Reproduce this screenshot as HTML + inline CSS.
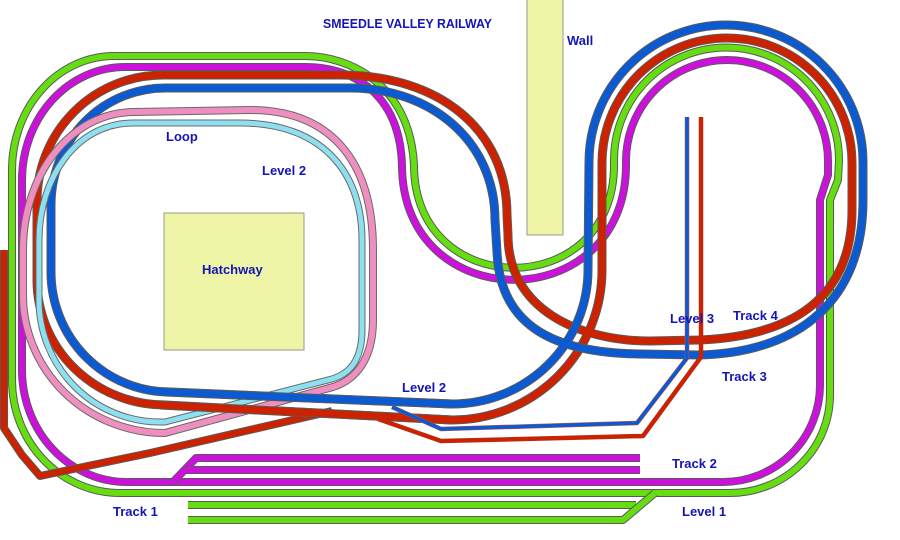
<!DOCTYPE html>
<html><head><meta charset="utf-8">
<style>
html,body{margin:0;padding:0;background:#fff;}
svg{display:block;}
text{font-family:"Liberation Sans",Arial,sans-serif;font-weight:bold;font-size:13px;fill:#1515b5;}
</style></head><body>
<svg width="900" height="540" viewBox="0 0 900 540" xmlns="http://www.w3.org/2000/svg">
<rect width="900" height="540" fill="#fff"/>
<defs>
<path id="pG" fill="none" d="M114 56 L305 56 C350 56 410 85 414 165 C414 302 614 302 614 165 L614 160 A112.5 112.5 0 1 1 839 160 L838 180 L830 200 L830 395 A100 98 0 0 1 730 493 L120 493 A108 113 0 0 1 12 380 L12 170 A102 114 0 0 1 114 56 Z"/>
<path id="pM" fill="none" d="M125 67 L305 67 C360 67 400 100 402 165 C402 318 626 318 626 165 L626 161 A101 101 0 1 1 828 161 L828 175 L820 200 L820 385 A97 97 0 0 1 723 482 L127 482 A105 112 0 0 1 22 370 L22 180 A103 113 0 0 1 125 67 Z"/>
<path id="pR" fill="none" d="M163 75 L340 75 C440 75 507 130 507 215 L508 235 C508 310 580 341 650 341 L700 340 C790 336 852 300 852 210 L852 163 A125 125 0 1 0 602 163 L602 270 A150 150 0 0 1 452 420 L165 405 A128 125 0 0 1 37 280 L37 201 A126 126 0 0 1 163 75 Z"/>
<path id="pB" fill="none" d="M165 88 L350 88 C430 88 495 140 495 220 L497 252 C500 330 560 353 640 354 L700 355 C800 352 863 300 863 200 L863 162 A137 137 0 1 0 589 162 L588 270 A136 134 0 0 1 452 404 L170 392 A119 120 0 0 1 51 272 L51 205 A114 117 0 0 1 165 88 Z"/>
<path id="pP" fill="none" d="M133 112 L250 110 C330 110 373 160 373 250 L373 320 C373 360 355 380 333 387 L165 433 A142 138 0 0 1 23 295 L23 250 C23 175 70 113 133 112 Z"/>
<path id="pL" fill="none" d="M133 123 L240 123 C320 123 362 170 362 240 L362 330 C362 360 350 375 328 380 L165 422 L160 422 A121 122 0 0 1 39 300 L39 240 C39 180 75 123 133 123 Z"/>
<path id="pRb" fill="none" d="M160 405 L452 420"/>
<path id="pBb" fill="none" d="M165 392 L452 404"/>
<path id="pBr" fill="none" d="M4 250 L4 428 L22 455 L40 476 L150 453 L332 411"/>
<path id="pMs1" fill="none" d="M640 458 L196 458 L172 483"/>
<path id="pMs2" fill="none" d="M640 470 L185 470"/>
<path id="pGs1" fill="none" d="M188 505 L636 505"/>
<path id="pGs2" fill="none" d="M188 520 L623 520 L655 493"/>
<path id="pBt" fill="none" d="M392 407 L441 429 L637 423 L687 358 L687 117"/>
<path id="pRt" fill="none" d="M378 419 L441 441 L643 436 L701 357 L701 117"/>
</defs>

<!-- Hatchway and Wall -->
<rect x="164" y="213" width="140" height="137" fill="#eef5a6" stroke="#9a9a8a" stroke-width="1"/>
<rect x="527" y="-2" width="36" height="237" fill="#eef5a6" stroke="#9a9a8a" stroke-width="1"/>

<g stroke-linejoin="round">
<!-- green outer -->
<use href="#pG" stroke="#5a5a5a" stroke-width="8"/>
<use href="#pG" stroke="#66dd11" stroke-width="6"/>
<!-- magenta -->
<use href="#pM" stroke="#5a5a5a" stroke-width="8"/>
<use href="#pM" stroke="#cc11dd" stroke-width="6"/>
<!-- sidings -->
<use href="#pMs1" stroke="#5a5a5a" stroke-width="8"/>
<use href="#pMs1" stroke="#cc11dd" stroke-width="6"/>
<use href="#pMs2" stroke="#5a5a5a" stroke-width="8"/>
<use href="#pMs2" stroke="#cc11dd" stroke-width="6"/>
<use href="#pGs1" stroke="#5a5a5a" stroke-width="8"/>
<use href="#pGs1" stroke="#66dd11" stroke-width="6"/>
<use href="#pGs2" stroke="#5a5a5a" stroke-width="8"/>
<use href="#pGs2" stroke="#66dd11" stroke-width="6"/>
<!-- red branch -->
<use href="#pBr" stroke="#5a5a5a" stroke-width="8"/>
<use href="#pBr" stroke="#cc2200" stroke-width="6"/>
<!-- red main -->
<use href="#pR" stroke="#5a5a5a" stroke-width="9"/>
<use href="#pR" stroke="#cc2200" stroke-width="7"/>
<!-- blue main -->
<use href="#pB" stroke="#5a5a5a" stroke-width="9"/>
<use href="#pB" stroke="#0b5ad2" stroke-width="7"/>
<!-- loop -->
<use href="#pP" stroke="#6a6a6a" stroke-width="8"/>
<use href="#pP" stroke="#ee8fc0" stroke-width="6"/>
<use href="#pL" stroke="#6a6a6a" stroke-width="7"/>
<use href="#pL" stroke="#8ee0f0" stroke-width="5"/>
<!-- bottom red/blue over loop -->
<use href="#pRb" stroke="#5a5a5a" stroke-width="9"/>
<use href="#pRb" stroke="#cc2200" stroke-width="7"/>
<use href="#pBb" stroke="#5a5a5a" stroke-width="9"/>
<use href="#pBb" stroke="#0b5ad2" stroke-width="7"/>
<!-- thin level 3 lines -->
<use href="#pBt" stroke="#d05030" stroke-width="4.5"/>
<use href="#pBt" stroke="#0b5ad2" stroke-width="3.5"/>
<use href="#pRt" stroke="#b03020" stroke-width="4.5"/>
<use href="#pRt" stroke="#cc2200" stroke-width="3.5"/>
</g>

<!-- labels -->
<text x="323" y="28" textLength="169" lengthAdjust="spacingAndGlyphs">SMEEDLE VALLEY RAILWAY</text>
<text x="567" y="45">Wall</text>
<text x="166" y="141">Loop</text>
<text x="262" y="175">Level 2</text>
<text x="202" y="274">Hatchway</text>
<text x="402" y="392">Level 2</text>
<text x="670" y="323">Level 3</text>
<text x="733" y="320">Track 4</text>
<text x="722" y="381">Track 3</text>
<text x="672" y="468">Track 2</text>
<text x="682" y="516">Level 1</text>
<text x="113" y="516">Track 1</text>
</svg>
</body></html>
